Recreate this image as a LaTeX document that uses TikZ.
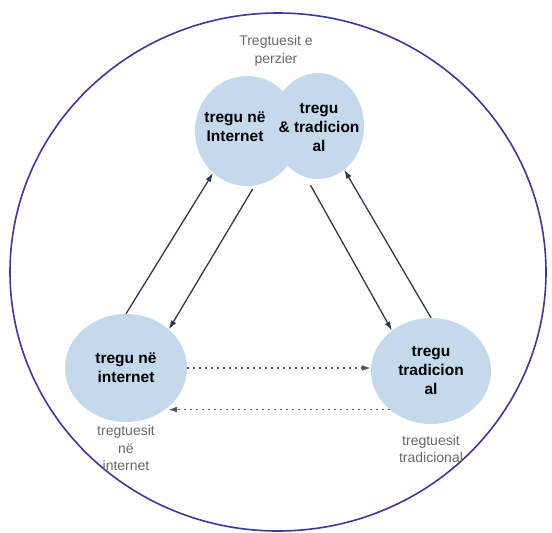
\documentclass[tikz,border=0pt]{standalone}
\usepackage{fontspec}
\setmainfont{Liberation Sans}
\usetikzlibrary{shapes.geometric,arrows.meta}
\definecolor{bubble}{RGB}{197,217,236}
\definecolor{rim}{RGB}{62,56,150}
\definecolor{arrowc}{RGB}{48,58,78}
\definecolor{dotc}{RGB}{80,88,104}
\definecolor{labelgray}{RGB}{105,105,105}
\tikzset{
  bubblenode/.style={ellipse,fill=bubble,draw=none,inner sep=0pt,align=center,
    font=\fontsize{15.5}{19}\selectfont\bfseries},
  boldtext/.style={align=center,inner sep=0pt,font=\fontsize{15.5}{19}\selectfont\bfseries},
  graylabel/.style={align=center,inner sep=0pt,text=labelgray,font=\fontsize{14}{17.5}\selectfont},
  solidarrow/.style={draw=arrowc,line width=1.3pt,-{Latex[length=9pt,width=6pt]}},
  dotarrow/.style={draw=dotc,line width=1.3pt,dash pattern=on 1.3pt off 4.7pt,-{Latex[length=9pt,width=6pt]}}
}
\begin{document}
\begin{tikzpicture}[x=1pt,y=-1pt]
\useasboundingbox (0,0) rectangle (552,533);
\fill[white] (0,0) rectangle (552,533);
% outer ring
\node[ellipse,draw=rim,line width=1.6pt,minimum width=536pt,minimum height=518pt,inner sep=0pt] (ring) at (278,272) {};
% top overlapping bubbles
\node[bubblenode,minimum width=104pt,minimum height=110pt] (topL) at (247,131) {};
\node[bubblenode,minimum width=92pt,minimum height=106pt] (topR) at (318,126) {};
\node[boldtext] (tL) at (235,127) {tregu në\\Internet};
\node[boldtext] (tR) at (319,128) {tregu\\\& tradicion\\al};
\node[graylabel] (lTop) at (276,51) {Tregtuesit e\\perzier};
% bottom bubbles
\node[bubblenode,minimum width=122pt,minimum height=108pt] (bl) at (126,368) {tregu në\\internet};
\node[bubblenode,minimum width=120pt,minimum height=106pt] (br) at (431,371) {tregu\\tradicion\\al};
\node[graylabel] (lBL) at (126,448) {tregtuesit\\në\\internet};
\node[graylabel] (lBR) at (431,449) {tregtuesit\\tradicional};
% connectors
\draw[solidarrow] (bl.90) -- (topL.231);
\draw[solidarrow,shorten <=4pt] (topL.278) -- (bl.42);
\draw[solidarrow,shorten <=9pt] (topR.257) -- (br.134);
\draw[solidarrow] (br.90) -- (topR.301);
\draw[dotarrow] (bl.east) -- (bl.east -| br.west);
\draw[dotarrow] (br.223) -- (br.223 -| bl.317);
\end{tikzpicture}
\end{document}
